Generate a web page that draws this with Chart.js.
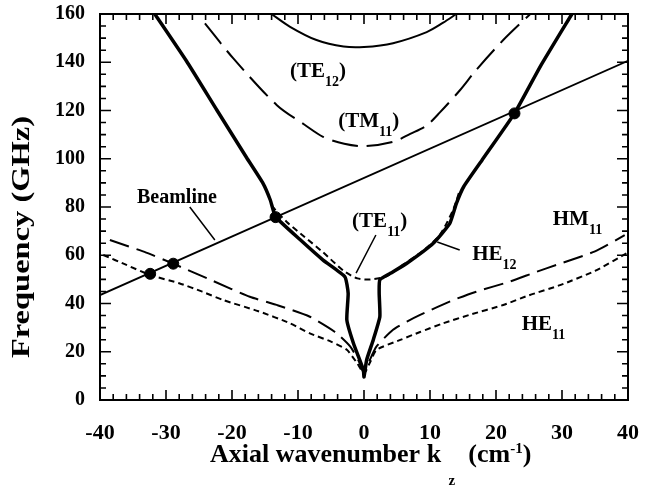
<!DOCTYPE html>
<html>
<head>
<meta charset="utf-8">
<script src="https://cdn.jsdelivr.net/npm/chart.js@4.4.1/dist/chart.umd.min.js"></script>
<style>
  body { margin: 0; background: #fff; }
  canvas { display: block; }
</style>
</head>
<body>
<canvas id="chart" width="649" height="489"></canvas>
<script>
// axis ticks
const xTickValues = [-40, -30, -20, -10, 0, 10, 20, 30, 40];
const yTickValues = [0, 20, 40, 60, 80, 100, 120, 140, 160];

// beamline (straight)
const beamK = [-40, 40];
const beamF = [43.5, 140.6];

// thick solid branch (HE12 / TE11-like hybrid)
const mainK = [-31.7, -26.9, -22.3, -17.8, -15.3, -14.2, -13.4, -9.7, -6.2, -2.9, -2.4, -2.6, -1.6, -0.1, 0,
               0.4, 1.4, 2.4, 2.3, 2.4, 4, 6.5, 10.5, 13, 14, 15.1, 17.9, 22.8, 26.7, 31.5];
const mainF = [160, 140.5, 120.2, 100.5, 89.8, 82.9, 76.0, 66.5, 58.0, 51.1, 44.2, 33.2, 23.5, 12.5, 9.6,
               16.6, 24.9, 34.5, 44.2, 49.8, 52.5, 56.7, 65.0, 73.2, 81.5, 88.4, 99.5, 118.8, 138.2, 160];

// (TE11) short dashed
const te11K = [-14, -11.7, -9, -6.2, -3.1, -1, 1, 3.5, 6, 9, 11.5, 13.5, 14.5];
const te11F = [80.5, 73.8, 67.6, 61.2, 53.6, 50.4, 50.0, 51.4, 56.2, 62.0, 68.5, 78.8, 86.8];

// (TE12) thin solid
const te12K = [-14, -11.2, -7.2, -3.1, 0, 4.4, 9.5, 12, 14];
const te12F = [160, 154.7, 149.2, 146.5, 146.3, 147.9, 152.5, 156.4, 160];

// (TM11) long dashed
const tm11K = [-24.1, -19.8, -13.2, -9, -6.2, -3, 0, 4.4, 7, 9.5, 11.5, 14.5, 17, 21.1, 25.2];
const tm11F = [156.1, 141.6, 122.2, 114.1, 109.1, 106.2, 105.2, 107.0, 110.3, 113.8, 119.2, 128.3, 136.8, 149.2, 160];

// HM11 long dashed
const hm11K = [-38.5, -33, -28.9, -23, -17.3, -13, -8.2, -4.4, -2.1, -0.8, 0, 0.8, 1.9, 4.4, 6.5, 8.5,
               13.5, 17, 22.1, 26, 29.7, 35, 39.5];
const hm11F = [66.3, 61.1, 56.5, 49.5, 42.8, 39.2, 34.5, 28.2, 22.2, 16.1, 11.1, 16.1, 22.2, 29.1, 32.5, 35.3,
               41.4, 44.9, 49.1, 53.0, 56.5, 61.6, 68.3];

// HE11 short dashed
const he11K = [-39.5, -36, -32.4, -28, -24.5, -21.3, -16, -11.2, -8.2, -5, -2.6, -1, 0, 1, 1.9, 5.5, 8.5,
               12, 16, 21.1, 25, 29.7, 35, 39.8];
const he11F = [60.1, 56.0, 51.8, 48.4, 44.9, 41.4, 36.8, 31.8, 27.6, 24.2, 20.8, 15.1, 11.1, 16.1, 20.8, 24.9, 28.2,
               31.8, 35.3, 39.4, 43.4, 47.6, 53.5, 60.8];

// beam crossings
const crossK = [-32.4, -28.9, -13.4, 22.8];
const crossF = [52.3, 56.5, 75.8, 118.8];

function pts(ks, fs) {
  return ks.map((k, i) => ({ x: k, y: fs[i] }));
}

const SERIF = '"Liberation Serif", "Times New Roman", serif';

// labels placed in data coordinates
const curveLabels = [
  { k: -11.2, f: 133.9, parts: [['(TE'], ['12', 'sub'], [')']] },
  { k: -3.9, f: 113.2, parts: [['(TM'], ['11', 'sub'], [')']] },
  { k: -34.4, f: 81.7, parts: [['Beamline']], size: 20 },
  { k: -1.8, f: 71.7, parts: [['(TE'], ['11', 'sub'], [')']] },
  { k: 16.4, f: 58.0, parts: [['HE'], ['12', 'sub']] },
  { k: 28.6, f: 72.5, parts: [['HM'], ['11', 'sub']] },
  { k: 23.9, f: 29.0, parts: [['HE'], ['11', 'sub']] }
];
const leaders = [
  [[-26.4, 80.0], [-22.6, 66.3]],
  [[1.8, 68.4], [-1.2, 52.6]],
  [[14.5, 62.2], [11.1, 65.5]]
];

function drawRich(ctx, x0, y0, parts, size, subSize, subDy, supDy) {
  let cx = x0;
  parts.forEach(([t, kind]) => {
    const s = kind ? subSize : size;
    ctx.font = 'bold ' + s + 'px ' + SERIF;
    const dy = kind === 'sub' ? subDy : kind === 'sup' ? -supDy : 0;
    ctx.fillText(t, cx, y0 + dy);
    cx += ctx.measureText(t).width;
  });
}

const decor = {
  id: 'decor',
  afterDatasetsDraw(chart) {
    const { ctx, chartArea: a, scales: { x, y } } = chart;
    ctx.save();
    ctx.strokeStyle = '#000';
    ctx.fillStyle = '#000';

    // frame
    ctx.lineWidth = 2;
    ctx.strokeRect(a.left, a.top, a.right - a.left, a.bottom - a.top);

    // inward ticks on all four sides
    ctx.lineWidth = 1.6;
    ctx.beginPath();
    for (let v = -40; v <= 40; v += 2) {
      const px = x.getPixelForValue(v);
      const len = v % 10 === 0 ? 10 : 6;
      ctx.moveTo(px, a.bottom); ctx.lineTo(px, a.bottom - len);
      ctx.moveTo(px, a.top); ctx.lineTo(px, a.top + len);
    }
    for (let v = 0; v <= 160; v += 5) {
      const py = y.getPixelForValue(v);
      const len = v % 20 === 0 ? 11 : 6;
      ctx.moveTo(a.left, py); ctx.lineTo(a.left + len, py);
      ctx.moveTo(a.right, py); ctx.lineTo(a.right - len, py);
    }
    ctx.stroke();

    // leader lines
    ctx.lineWidth = 1.5;
    ctx.beginPath();
    leaders.forEach(([p, q]) => {
      ctx.moveTo(x.getPixelForValue(p[0]), y.getPixelForValue(p[1]));
      ctx.lineTo(x.getPixelForValue(q[0]), y.getPixelForValue(q[1]));
    });
    ctx.stroke();

    // curve labels
    ctx.textBaseline = 'alphabetic';
    ctx.textAlign = 'left';
    curveLabels.forEach(l => {
      drawRich(ctx, x.getPixelForValue(l.k), y.getPixelForValue(l.f), l.parts, l.size || 21, 14, 9, 0);
    });

    // x title
    drawRich(ctx, 210, 462,
      [['Axial wavenumber k'], ['  z', 'sub'], ['  (cm'], ['-1', 'sup'], [')']], 26, 15, 23, 9);

    // y title (stretched like the original)
    ctx.save();
    ctx.translate(23, 237);
    ctx.rotate(-Math.PI / 2);
    ctx.scale(1.3, 1);
    ctx.textAlign = 'center';
    ctx.textBaseline = 'middle';
    ctx.font = 'bold 25px ' + SERIF;
    ctx.fillText('Frequency (GHz)', 0, 0);
    ctx.restore();

    ctx.restore();
  }
};

const line = (data, width, dash, tension, order) => ({
  data, showLine: true, borderColor: '#000', borderWidth: width, borderDash: dash,
  pointRadius: 0, tension, order, fill: false
});

new Chart(document.getElementById('chart'), {
  type: 'scatter',
  data: {
    datasets: [
      { data: pts(crossK, crossF), pointRadius: 5.5, pointBackgroundColor: '#000', pointBorderColor: '#000', order: 0 },
      line(pts(beamK, beamF), 1.8, [], 0, 1),
      line(pts(mainK, mainF), 3.5, [], 0.15, 2),
      line(pts(te11K, te11F), 2, [6, 4], 0.25, 3),
      line(pts(te12K, te12F), 2, [], 0.3, 4),
      line(pts(tm11K, tm11F), 2, [26, 9], 0.3, 5),
      line(pts(hm11K, hm11F), 2, [20, 8], 0.2, 6),
      line(pts(he11K, he11F), 2, [6, 4], 0.2, 7)
    ]
  },
  options: {
    responsive: false,
    animation: false,
    layout: { padding: { left: 0, right: 21, top: 14, bottom: 0 } },
    plugins: { legend: { display: false }, tooltip: { enabled: false } },
    scales: {
      x: {
        type: 'linear', min: -40, max: 40,
        afterBuildTicks: s => { s.ticks = xTickValues.map(v => ({ value: v })); },
        afterFit: s => { s.height = 89; s.paddingLeft = 0; s.paddingRight = 0; },
        grid: { display: false, drawTicks: false },
        border: { display: false },
        ticks: { color: '#000', padding: 20, font: { family: SERIF, weight: 'bold', size: 22 } }
      },
      y: {
        type: 'linear', min: 0, max: 160,
        afterBuildTicks: s => { s.ticks = yTickValues.map(v => ({ value: v })); },
        afterFit: s => { s.width = 100; s.paddingTop = 0; s.paddingBottom = 0; },
        grid: { display: false, drawTicks: false },
        border: { display: false },
        ticks: { color: '#000', padding: 15, font: { family: SERIF, weight: 'bold', size: 20 } }
      }
    }
  },
  plugins: [decor]
});
</script>
</body>
</html>
